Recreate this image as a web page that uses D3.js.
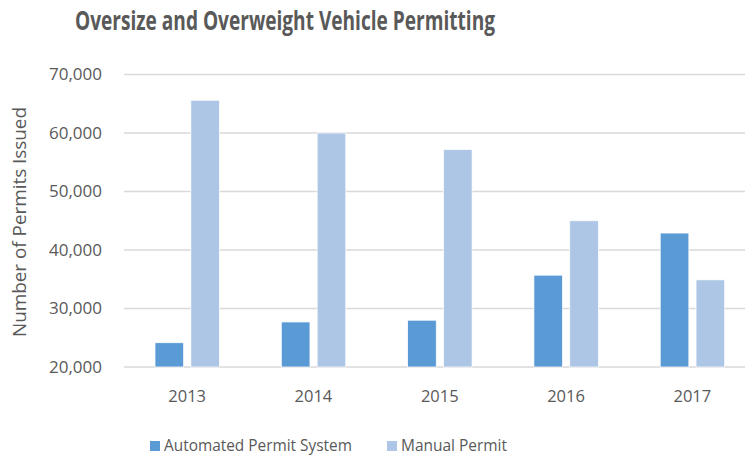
<!DOCTYPE html>
<html>
<head>
<meta charset="utf-8">
<script src="https://cdn.jsdelivr.net/npm/d3@7"></script>
<style>
  body { margin: 0; background: #fff; }
  svg text { font-family: "Open Sans", "DejaVu Sans", sans-serif; fill: #595959; }
  svg text.title { font-family: "Liberation Sans Narrow", "Open Sans", sans-serif; }
</style>
</head>
<body>
<svg id="chart" width="745" height="458"></svg>
<script>
// data
const years = ["2013", "2014", "2015", "2016", "2017"];
const automated = [24150, 27700, 28000, 35700, 42900];
const manual = [65600, 60000, 57200, 45000, 34900];
const seriesNames = ["Automated Permit System", "Manual Permit"];
const seriesColors = ["#5B9BD5", "#ADC6E5"];
const yTicks = [20000, 30000, 40000, 50000, 60000, 70000];

const svg = d3.select("#chart");

// plot area (right side runs past the window, as in the picture)
const plotL = 124, plotR = 755.5, plotT = 74.5, plotB = 367;

const x0 = d3.scaleBand().domain(years).range([plotL, plotR]).padding(0);
const x1 = d3.scaleBand().domain(seriesNames).range([31, 95.5]).paddingInner(0.2);
const y = d3.scaleLinear().domain([20000, 70000]).range([plotB, plotT]);

// shrink/grow a text node's font size so it spans a given width
function fitWidth(sel, w) {
  const fs = parseFloat(sel.attr("font-size"));
  const len = sel.node().getComputedTextLength();
  sel.attr("font-size", (fs * w / len).toFixed(2));
}

// gridlines
svg.append("g")
  .selectAll("line")
  .data(yTicks)
  .join("line")
    .attr("x1", plotL)
    .attr("x2", 745)
    .attr("y1", d => y(d))
    .attr("y2", d => y(d))
    .attr("stroke", "#d9d9d9")
    .attr("stroke-width", 1.5);

// y axis labels
const fmt = d3.format(",");
const yLab = svg.append("g")
  .selectAll("text")
  .data(yTicks)
  .join("text")
    .attr("x", 102)
    .attr("y", d => y(d))
    .attr("dy", "0.35em")
    .attr("text-anchor", "end")
    .attr("font-size", 17)
    .text(d => fmt(d));

// bars
const rows = years.map((yr, i) => ({ year: yr, vals: [automated[i], manual[i]] }));
const groups = svg.append("g")
  .selectAll("g")
  .data(rows)
  .join("g")
    .attr("transform", d => `translate(${x0(d.year)},0)`);

groups.selectAll("rect")
  .data(d => d.vals.map((v, j) => ({ name: seriesNames[j], v, j })))
  .join("rect")
    .attr("x", d => x1(d.name))
    .attr("width", x1.bandwidth())
    .attr("y", d => y(d.v))
    .attr("height", d => y(20000) - y(d.v))
    .attr("fill", d => seriesColors[d.j])
    .attr("stroke", "#fff")
    .attr("stroke-width", 0.75);

// x axis labels
svg.append("g")
  .selectAll("text")
  .data(years)
  .join("text")
    .attr("x", d => x0(d) + x0.bandwidth() / 2)
    .attr("y", 402)
    .attr("text-anchor", "middle")
    .attr("font-size", 16.5)
    .text(d => d);

// y axis title
const yTitle = svg.append("text")
  .attr("transform", "translate(26,222) rotate(-90)")
  .attr("text-anchor", "middle")
  .attr("font-size", 16)
  .text("Number of Permits Issued");
fitWidth(yTitle, 230);

// chart title
const title = svg.append("text")
  .attr("class", "title")
  .attr("x", 285)
  .attr("y", 30)
  .attr("text-anchor", "middle")
  .attr("font-size", 27)
  .attr("font-weight", "bold")
  .text("Oversize and Overweight Vehicle Permitting");
title.attr("textLength", 420).attr("lengthAdjust", "spacingAndGlyphs");

// legend
const legendX = [150, 387];
const legend = svg.append("g")
  .selectAll("g")
  .data(seriesNames)
  .join("g")
    .attr("transform", (d, i) => `translate(${legendX[i]},446)`);

legend.append("rect")
  .attr("x", 0)
  .attr("y", -5)
  .attr("width", 10)
  .attr("height", 10)
  .attr("fill", (d, i) => seriesColors[i]);

legend.append("text")
  .attr("x", 14)
  .attr("dy", "0.35em")
  .attr("font-size", 16)
  .text(d => d)
  .each(function(d, i) { fitWidth(d3.select(this), [188, 106][i]); });
</script>
</body>
</html>
